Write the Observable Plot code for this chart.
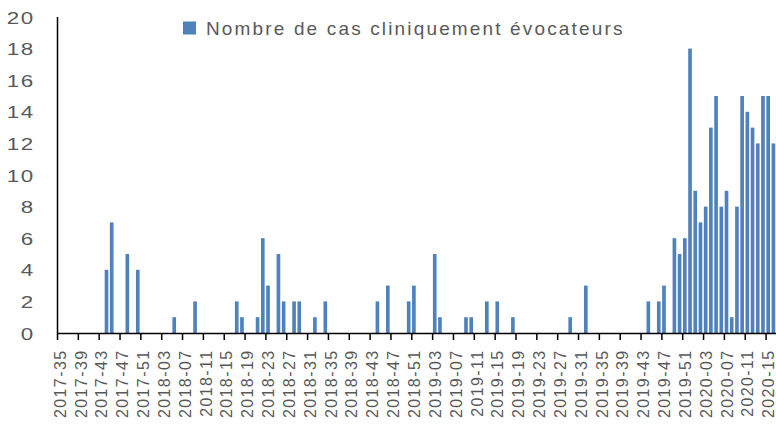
<!DOCTYPE html>
<html><head><meta charset="utf-8">
<script src="https://cdn.jsdelivr.net/npm/d3@7"></script>
<script src="https://cdn.jsdelivr.net/npm/@observablehq/plot@0.6"></script>
<style>body{margin:0;background:#fff} #chart{width:776px;height:425px;overflow:hidden}</style>
</head><body><div id="chart"></div>
<script>
// Weekly counts (ISO year-week)
const years = [2017, 2018, 2019, 2020];
const firstWeeks = [35, 1, 1, 1];
const counts2017 = [0,0,0,0,0,0,0,0,0,4,7,0,0,5,0,4,0,0]; // weeks 35-52
const counts2018 = [0,0,0,0,1,0,0,0,2,0,0,0,0,0,0,0,
                    2,1,0,0,1,6,3,0,5,2,0,2,2,0,0,1,0,2,
                    0,0,0,0,0,0,0,0,0,
                    2,0,3,0,0,0,2,3,0]; // weeks 1-52
const counts2019 = [0,0,5,1,0,0,0,0,1,1,0,0,2,0,2,0,0,1,
                    0,0,0,0,0,0,0,0,0,0,
                    1,0,0,3,
                    0,0,0,0,0,0,0,0,0,0,0,
                    2,0,2,3,0,6,5,6,18]; // weeks 1-52
const counts2020 = [9,7,8,13,15,8,9,1,8,15,14,13,12,15,15,12]; // weeks 1-16
const tickLabels = ["2017-35","2017-39","2017-43","2017-47","2017-51",
  "2018-03","2018-07","2018-11","2018-15","2018-19","2018-23","2018-27","2018-31","2018-35","2018-39","2018-43","2018-47","2018-51",
  "2019-03","2019-07","2019-11","2019-15","2019-19","2019-23","2019-27","2019-31","2019-35","2019-39","2019-43","2019-47","2019-51",
  "2020-03","2020-07","2020-11","2020-15"];
const yTicks = [0,2,4,6,8,10,12,14,16,18,20];
const seriesName = "Nombre de cas cliniquement évocateurs";

const series = [counts2017, counts2018, counts2019, counts2020];
const data = [];
series.forEach((arr, k) => arr.forEach((v, j) =>
  data.push({week: `${years[k]}-${String(firstWeeks[k] + j).padStart(2, "0")}`, value: v})));
const weeks = data.map(d => d.week);

const W = 776, H = 425, ML = 57, MR = 0, MT = 17, MB = 92;
const step = (W - ML - MR) / weeks.length;

const plot = Plot.plot({
  width: W, height: H, marginLeft: ML, marginRight: MR, marginTop: MT, marginBottom: MB,
  style: {fontFamily: "'Liberation Sans', Arial, sans-serif", color: "#595959", background: "white"},
  x: {type: "band", domain: weeks, paddingInner: 0.3, paddingOuter: 0.15, align: 0.5, round: false},
  y: {domain: [0, 20]},
  marks: [
    Plot.barY(data, {x: "week", y: "value", fill: "#4f81bd"}),
    Plot.axisY({ticks: yTicks, tickSize: 0, tickPadding: 23, fontSize: 16, dy: 1, label: null}),
    Plot.axisX({ticks: tickLabels, tickSize: 7, tickFormat: () => "", stroke: "black", strokeWidth: 1.5, dx: -step / 2, label: null}),
    Plot.axisX({ticks: tickLabels, tickSize: 0, tickPadding: 16, tickRotate: -90, fontSize: 16, dx: 0.5, label: null}),
    Plot.ruleY([0], {stroke: "black", strokeWidth: 1.5}),
    Plot.ruleX([weeks[0]], {dx: -step / 2, stroke: "black", strokeWidth: 1.5})
  ]
});

const svg = d3.select(plot);
// widen the y tick labels like the reference's stretched glyphs
svg.selectAll('g[aria-label="y-axis tick label"] text').each(function() {
  const t = d3.select(this);
  const tr = t.attr("transform");
  if (tr) t.attr("transform", tr + " scale(1.4,1)");
  else {
    const x = +t.attr("x") || 0, y = +t.attr("y") || 0;
    t.attr("x", null).attr("y", null).attr("transform", `translate(${x},${y}) scale(1.4,1)`);
  }
}).attr("letter-spacing", "1px");
svg.selectAll('g[aria-label="x-axis tick label"]').attr("letter-spacing", "1.4px");
const lg = svg.append("g").attr("aria-label", "legend");
lg.append("rect").attr("x", 183).attr("y", 21.5).attr("width", 13).attr("height", 13).attr("fill", "#4f81bd");
lg.append("text").attr("x", 206).attr("y", 35).attr("font-size", 19).attr("letter-spacing", "2.15px")
  .attr("text-anchor", "start").attr("fill", "#595959").text(seriesName);

document.getElementById("chart").appendChild(plot);
</script></body></html>
